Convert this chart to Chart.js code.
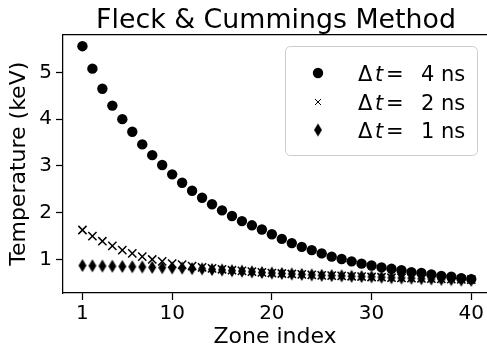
<!DOCTYPE html>
<html>
<head>
<meta charset="utf-8">
<script src="https://cdn.jsdelivr.net/npm/chart.js@4.4.1/dist/chart.umd.min.js"></script>
<style>
  html, body { margin: 0; padding: 0; background: #ffffff; }
  #wrap { width: 487px; height: 351px; }
</style>
</head>
<body>
<div id="wrap"><canvas id="chart" width="487" height="351"></canvas></div>
<script>
// Zone indices (x) and temperatures in keV for three time steps
const zones = [1,2,3,4,5,6,7,8,9,10,11,12,13,14,15,16,17,18,19,20,
               21,22,23,24,25,26,27,28,29,30,31,32,33,34,35,36,37,38,39,40];

const temp4ns = [5.56,5.08,4.65,4.29,4.00,3.73,3.46,3.23,3.02,2.82,
                 2.64,2.47,2.32,2.18,2.05,1.93,1.82,1.73,1.64,1.54,
                 1.44,1.35,1.27,1.20,1.13,1.06,1.01,0.96,0.91,0.87,
                 0.83,0.80,0.77,0.73,0.71,0.68,0.65,0.63,0.60,0.58];

const temp2ns = [1.63,1.50,1.39,1.29,1.20,1.13,1.06,1.00,0.96,0.91,
                 0.89,0.86,0.83,0.81,0.79,0.77,0.755,0.74,0.725,0.71,
                 0.70,0.69,0.68,0.67,0.66,0.655,0.65,0.64,0.635,0.625,
                 0.62,0.61,0.605,0.60,0.595,0.59,0.585,0.58,0.575,0.57];

const temp1ns = [0.87,0.865,0.86,0.855,0.85,0.845,0.84,0.83,0.825,0.82,
                 0.815,0.805,0.80,0.785,0.775,0.76,0.75,0.735,0.72,0.71,
                 0.70,0.69,0.68,0.67,0.66,0.655,0.65,0.64,0.635,0.63,
                 0.62,0.61,0.605,0.60,0.59,0.585,0.575,0.57,0.56,0.555];

const xTicks = [1, 10, 20, 30, 40];
const yTicks = [1, 2, 3, 4, 5];
const seriesLabels = ['4 ns', '2 ns', '1 ns'];

const FONT = '"DejaVu Sans", "Liberation Sans", sans-serif';

// Thin diamond marker drawn into a small sprite
function thinDiamond(w, h) {
  const c = document.createElement('canvas');
  c.width = w + 2; c.height = h + 2;
  const g = c.getContext('2d');
  const cx = c.width / 2, cy = c.height / 2;
  g.fillStyle = '#000';
  g.beginPath();
  g.moveTo(cx, cy - h / 2);
  g.lineTo(cx + w / 2, cy);
  g.lineTo(cx, cy + h / 2);
  g.lineTo(cx - w / 2, cy);
  g.closePath();
  g.fill();
  return c;
}
const diamondSprite = thinDiamond(8, 13);

function toPoints(ys) { return zones.map((z, i) => ({ x: z, y: ys[i] })); }

// Title, top spine and legend box
const decorations = {
  id: 'decorations',
  afterDraw(chart) {
    const { ctx, chartArea } = chart;
    ctx.save();
    // top spine
    ctx.strokeStyle = '#000';
    ctx.lineWidth = 1.25;
    ctx.beginPath();
    ctx.moveTo(chartArea.left, chartArea.top);
    ctx.lineTo(chart.width, chartArea.top);
    ctx.stroke();

    // title
    ctx.fillStyle = '#000';
    ctx.font = '26.8px ' + FONT;
    ctx.textAlign = 'center';
    ctx.textBaseline = 'alphabetic';
    ctx.fillText('Fleck & Cummings Method', 276, 28);

    // legend frame
    const bx = 285.5, by = 46.5, bw = 192, bh = 109, r = 5;
    ctx.beginPath();
    ctx.moveTo(bx + r, by);
    ctx.arcTo(bx + bw, by, bx + bw, by + bh, r);
    ctx.arcTo(bx + bw, by + bh, bx, by + bh, r);
    ctx.arcTo(bx, by + bh, bx, by, r);
    ctx.arcTo(bx, by, bx + bw, by, r);
    ctx.closePath();
    ctx.fillStyle = 'rgba(255,255,255,0.8)';
    ctx.fill();
    ctx.strokeStyle = '#cccccc';
    ctx.lineWidth = 1;
    ctx.stroke();

    // legend entries
    const rows = [73, 102, 130];
    chart.data.datasets.forEach((ds, i) => {
      const cy = rows[i];
      ctx.fillStyle = '#000';
      ctx.strokeStyle = '#000';
      Chart.helpers.drawPoint(ctx, {
        pointStyle: ds.pointStyle,
        radius: i === 1 ? 4.3 : ds.pointRadius,
        borderWidth: ds.borderWidth
      }, 318, cy);
      ctx.fillStyle = '#000';
      ctx.textAlign = 'left';
      ctx.textBaseline = 'alphabetic';
      const base = cy + 7.5;
      ctx.font = '21px ' + FONT;
      ctx.fillText('\u0394', 358, base);
      ctx.font = 'italic 21px ' + FONT;
      ctx.fillText('t', 375, base);
      ctx.font = '21px ' + FONT;
      ctx.fillText('=', 386, base);
      ctx.fillText(seriesLabels[i], 421, base);
    });
    ctx.restore();
  }
};

new Chart(document.getElementById('chart'), {
  type: 'scatter',
  data: {
    datasets: [
      {
        label: '\u0394t = 4 ns', data: toPoints(temp4ns),
        pointStyle: 'circle', pointRadius: 5.2, borderWidth: 0,
        backgroundColor: '#000', borderColor: '#000', order: 2
      },
      {
        label: '\u0394t = 2 ns', data: toPoints(temp2ns),
        pointStyle: 'crossRot', pointRadius: 5.8, borderWidth: 1.5,
        backgroundColor: '#000', borderColor: '#000', order: 1
      },
      {
        label: '\u0394t = 1 ns', data: toPoints(temp1ns),
        pointStyle: diamondSprite, pointRadius: 6, borderWidth: 0,
        backgroundColor: '#000', borderColor: '#000', order: 0
      }
    ]
  },
  options: {
    responsive: false,
    devicePixelRatio: 1,
    animation: false,
    events: [],
    layout: { autoPadding: false, padding: { top: 34.5, left: 0, right: 0, bottom: 0 } },
    plugins: { legend: { display: false }, title: { display: false }, tooltip: { enabled: false } },
    scales: {
      x: {
        type: 'linear', min: -0.95, max: 41.58,
        afterBuildTicks: s => { s.ticks = xTicks.map(v => ({ value: v })); },
        afterFit: s => { s.height = 58; s.paddingLeft = 0; s.paddingRight = 0; },
        ticks: { color: '#000', font: { family: FONT, size: 20 }, padding: 2, maxRotation: 0, autoSkip: false },
        grid: { drawOnChartArea: false, drawTicks: true, tickLength: 7, tickColor: '#000', tickWidth: 1.25 },
        border: { display: true, color: '#000', width: 1.25 },
        title: { display: true, text: 'Zone index', color: '#000', font: { family: FONT, size: 22 }, padding: { top: 0, bottom: 1 } }
      },
      y: {
        type: 'linear', min: 0.283, max: 5.81,
        afterBuildTicks: s => { s.ticks = yTicks.map(v => ({ value: v })); },
        afterFit: s => { s.width = 63; s.paddingTop = 0; s.paddingBottom = 0; },
        ticks: { color: '#000', font: { family: FONT, size: 20 }, padding: 4, autoSkip: false },
        grid: { drawOnChartArea: false, drawTicks: true, tickLength: 7, tickColor: '#000', tickWidth: 1.25 },
        border: { display: true, color: '#000', width: 1.25 },
        title: { display: true, text: 'Temperature (keV)', color: '#000', font: { family: FONT, size: 22 }, padding: { top: 6, bottom: 0 } }
      }
    }
  },
  plugins: [decorations]
});
</script>
</body>
</html>
